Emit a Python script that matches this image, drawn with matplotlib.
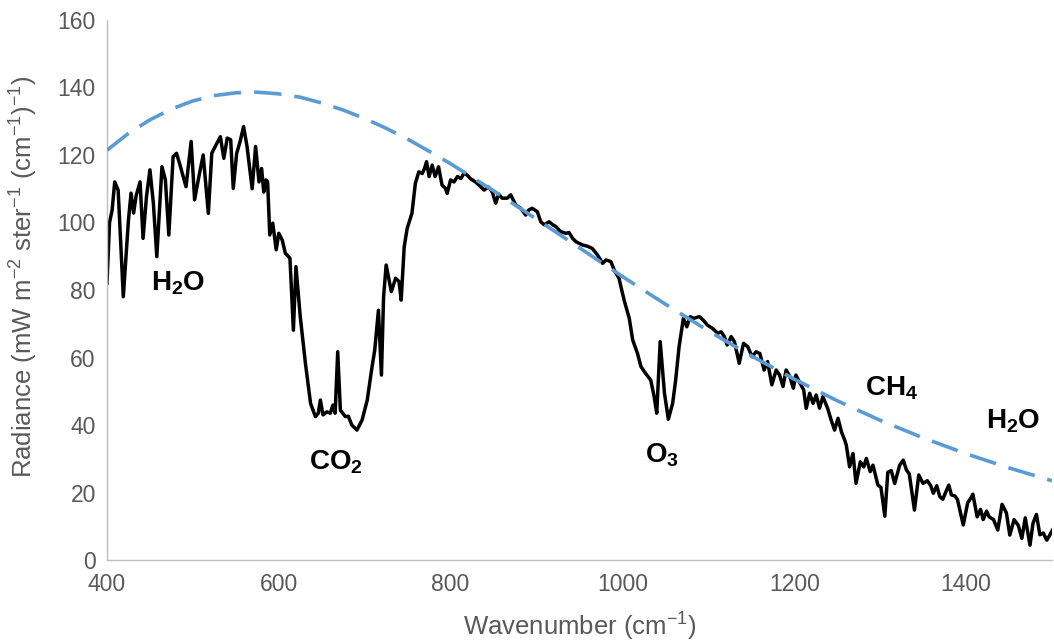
import matplotlib
matplotlib.use("Agg")
import matplotlib.pyplot as plt

plt.rcParams['font.family'] = ['Liberation Sans', 'DejaVu Sans']
plt.rcParams['mathtext.fontset'] = 'custom'
plt.rcParams['mathtext.rm'] = 'Liberation Sans'
plt.rcParams['mathtext.it'] = 'Liberation Sans:italic'
plt.rcParams['mathtext.bf'] = 'Liberation Sans:bold'

# Measured spectrum (black)
spec_wn = [400, 403, 406, 409, 413, 419, 425, 428, 431, 434, 438.5, 442, 446, 450, 454, 458,
           464, 468, 472, 477, 481, 485, 492, 498, 502, 507, 512, 518, 522, 528, 532, 536,
           540, 544, 547, 551, 555, 559, 563, 569, 573, 577, 580, 582.5, 585, 587, 589.5,
           593, 597, 600, 604, 607.6, 613, 617, 620, 625, 631, 637, 642.6, 646, 648.4,
           651.5, 656, 660, 663, 665.6, 668.6, 671.7, 677.5, 681, 685, 691, 697, 703, 708,
           711.7, 716, 719.5, 722, 725, 731, 736, 740, 742.5, 746, 749.5, 755, 759, 763,
           767, 769.7, 772, 775, 778.6, 782, 786, 790, 794, 796, 800, 804, 808, 812, 815.6,
           819.5, 823, 829, 835, 839, 844, 848.6, 852.5, 856, 860, 866, 870, 875.8, 881.6,
           887.5, 891, 895, 901, 905, 909, 914.7, 919, 922.5, 928, 934, 938, 942, 946,
           949.7, 954, 959, 965, 971, 977, 981, 986.6, 990.5, 996, 1002, 1008, 1012,
           1017.6, 1021.6, 1027, 1033, 1037, 1040, 1044, 1049, 1053.5, 1058.5, 1062, 1066,
           1071, 1075, 1079, 1083, 1089.5, 1094, 1099, 1105, 1111, 1115, 1118.7, 1122,
           1126.6, 1130.4, 1136, 1141, 1146, 1151, 1155.7, 1160, 1165, 1169, 1174, 1179,
           1183, 1187, 1190.6, 1195, 1199, 1202, 1206, 1211, 1214, 1218, 1222, 1225.6,
           1229.5, 1233.4, 1239, 1243, 1247, 1251, 1255, 1258.7, 1260.6, 1264.5, 1268.4,
           1272, 1277, 1281, 1284, 1288.5, 1291.7, 1297.5, 1301, 1305.5, 1309, 1313, 1317,
           1322.8, 1327, 1330.6, 1334, 1340, 1345, 1350, 1355, 1359, 1362, 1366, 1369.5,
           1373, 1377, 1380, 1383, 1387, 1390, 1396.8, 1402, 1406, 1408, 1413, 1417, 1420,
           1424, 1427, 1432, 1437, 1442, 1447, 1451, 1456, 1461, 1465, 1469, 1474.5, 1478,
           1482, 1486, 1490, 1494, 1498, 1502]
spec_val = [82, 100, 103.7, 112, 109.6, 78, 100.7, 108.7, 102.8, 108, 112, 95.3, 107.7, 115.6,
            105.7, 89.9, 116.5, 112.6, 96.3, 119.5, 120.5, 117, 110.6, 124, 106.7, 113.6, 120,
            102.7, 120.5, 123.5, 125.4, 119, 125, 124.5, 110.1, 120.5, 124, 128.4, 122.6, 110,
            122.5, 112, 116, 109, 112.6, 112, 96.3, 99.8, 91.9, 96.8, 94.8, 90.9, 89.4, 68.1,
            86.9, 72.1, 58.3, 46.4, 42.5, 43.5, 47.4, 43, 43.9, 43.5, 45.9, 43.5, 61.7, 44.4,
            42.5, 42.6, 40, 38.5, 41.5, 47.4, 56.3, 62.2, 74, 54.8, 78, 87.4, 79.5, 83.5, 82.5,
            77, 92.8, 98.3, 102.7, 111.6, 115, 114.5, 116, 118, 113.6, 117, 113.6, 116.5,
            111.1, 110.1, 108.6, 112.6, 112, 113.6, 113, 114.6, 114, 113, 112, 110.6, 109.6,
            110.5, 109, 105.7, 108.4, 107.2, 107.2, 108.2, 105.2, 104.2, 102.2, 103.7, 104.2,
            103.2, 100.2, 99.3, 100.2, 99.3, 98.8, 97.3, 96.8, 97, 95.3, 94.3, 93.8, 93.3, 93,
            92.3, 90.4, 87.9, 88.9, 88.4, 85.9, 83.5, 77, 71.6, 65.2, 61.2, 57.3, 55.3, 53.3,
            48.4, 43.5, 64.7, 49.4, 41.7, 46.4, 53.3, 63.2, 71.6, 69.1, 72.1, 71.6, 72.1, 71.1,
            69.6, 68.6, 67.2, 67.6, 66.2, 63.7, 66.2, 64.7, 58.3, 64.2, 63.2, 60.2, 61.7, 61.2,
            56.3, 58.8, 51.9, 56.3, 54.8, 51.4, 56.3, 54.3, 50.9, 54.8, 52.8, 50.4, 44.9, 49.4,
            46.4, 48.9, 45, 48.4, 44.9, 41.5, 38.5, 42, 38, 35.6, 34.1, 27.6, 31.6, 22.7, 29.1,
            27.6, 30.1, 26.2, 28.1, 22.2, 21.5, 13, 26, 26.5, 22.7, 28.1, 29.6, 26.7, 25.5,
            14.8, 25.2, 22.7, 23.5, 22, 19.8, 22, 18.8, 18, 20.5, 22.2, 19.3, 19, 18, 10.4, 17,
            18.5, 19.5, 12.8, 15, 12, 14.5, 12.8, 12, 8.9, 16.5, 14, 7.4, 12, 10.2, 6.4, 12.5,
            4.4, 10.9, 13.5, 7.5, 8, 5.9, 7.6, 9.5]

# Blackbody reference curve (blue dashed)
bb_wn = [400, 425, 450, 475, 500, 525, 550, 575, 600, 625, 650, 675, 700, 725, 750, 775,
         800, 850, 900, 950, 1000, 1050, 1100, 1150, 1200, 1250, 1300, 1350, 1400, 1450, 1500]
bb_val = [121.4, 126.4, 130.4, 133.6, 136.0, 137.6, 138.4, 138.6, 138.1, 137.1, 135.4, 133.3,
          130.8, 127.9, 124.7, 121.1, 117.4, 109.4, 101.0, 92.5, 84.0, 75.8, 67.9, 60.5,
          53.6, 47.2, 41.4, 36.2, 31.5, 27.3, 23.5]

labels = [r'$\mathbf{H_2O}$', r'$\mathbf{CO_2}$', r'$\mathbf{O_3}$', r'$\mathbf{CH_4}$', r'$\mathbf{H_2O}$']
label_wn = [483, 667, 1046, 1313, 1455]
label_val = [82, 29, 31, 51, 41]

x_ticks = [400, 600, 800, 1000, 1200, 1400]
y_ticks = [0, 20, 40, 60, 80, 100, 120, 140, 160]

fig = plt.figure(figsize=(10.54, 6.43), dpi=100)
ax = fig.add_axes([0.1015, 0.129, 0.8965, 0.840])

ax.plot(bb_wn, bb_val, color='#5B9BD5', lw=2.6, dashes=(7.6, 3.6), zorder=3)
ax.plot(spec_wn, spec_val, color='black', lw=2.5, solid_joinstyle='round', zorder=2)

for t, xw, yv in zip(labels, label_wn, label_val):
    ax.text(xw, yv, t, fontsize=20, ha='center', va='center', color='black')

ax.set_xlim(400, 1500)
ax.set_ylim(0, 160)
ax.set_xticks(x_ticks)
ax.set_yticks(y_ticks)
ax.tick_params(axis='both', length=0, labelsize=16.5, labelcolor='#595959')
ax.tick_params(axis='y', pad=8)
ax.tick_params(axis='x', pad=9)

for s in ['top', 'right']:
    ax.spines[s].set_visible(False)
for s in ['left', 'bottom']:
    ax.spines[s].set_color('#BFBFBF')
    ax.spines[s].set_linewidth(1.0)

ax.set_xlabel(r'Wavenumber (cm$^{-1}$)', fontsize=18.5, color='#595959', labelpad=11)
ax.set_ylabel(r'Radiance (mW m$^{-2}$ ster$^{-1}$ (cm$^{-1}$)$^{-1}$)', fontsize=18.5,
              color='#595959')
ax.yaxis.set_label_coords(-0.071, 0.525)

fig.savefig('out.png', dpi=100)
